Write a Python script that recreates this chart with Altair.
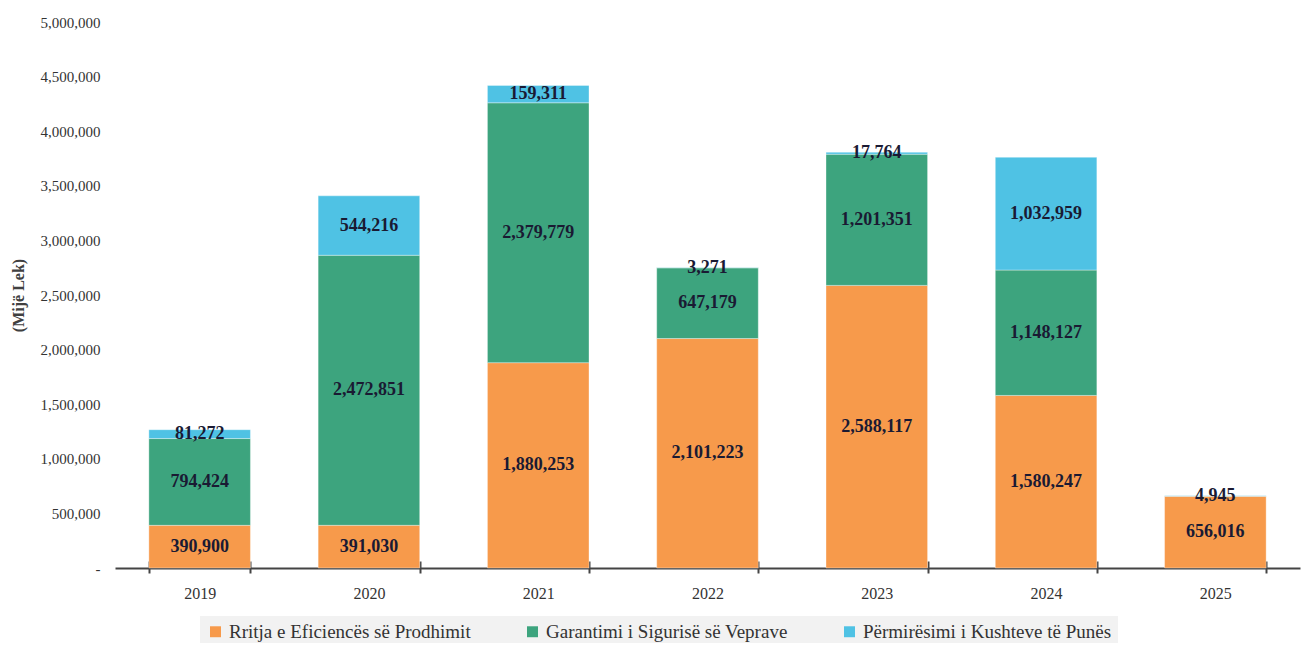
import altair as alt
import pandas as pd

years = ["2019", "2020", "2021", "2022", "2023", "2024", "2025"]
series = ["Rritja e Eficiencës së Prodhimit", "Garantimi i Sigurisë së Veprave", "Përmirësimi i Kushteve të Punës"]
rritja = [390900, 391030, 1880253, 2101223, 2588117, 1580247, 656016]
garantimi = [794424, 2472851, 2379779, 647179, 1201351, 1148127, None]
permiresimi = [81272, 544216, 159311, 3271, 17764, 1032959, 4945]
colors = ["#F79A4B", "#3DA47E", "#4FC2E4"]
y_ticks = [0, 500000, 1000000, 1500000, 2000000, 2500000, 3000000, 3500000, 4000000, 4500000, 5000000]

rows = []
for i, y in enumerate(years):
    for k, vals in enumerate([rritja, garantimi, permiresimi]):
        if vals[i] is not None:
            rows.append({"year": y, "series": series[k], "order": k, "value": vals[i]})
df = pd.DataFrame(rows)

FONT = "Liberation Serif"

x_enc = alt.X("year:N", sort=years,
              scale=alt.Scale(paddingInner=0.4, paddingOuter=0.2),
              axis=alt.Axis(title=None, orient="bottom", domain=False, tickBand="extent", ticks=True,
                            tickSize=12, tickColor="#444444", tickWidth=2, offset=-7,
                            labelAngle=0, labelFont=FONT, labelFontSize=16,
                            labelColor="#333333", labelPadding=12))

bars = alt.Chart(df).mark_bar(stroke="#ffffff", strokeOpacity=0.35, strokeWidth=1).encode(
    x=x_enc,
    y=alt.Y("value:Q", stack="zero",
            scale=alt.Scale(domain=[0, 5000000], nice=False),
            axis=alt.Axis(title="(Mijë Lek)", values=y_ticks,
                          labelExpr="datum.value == 0 ? '-' : format(datum.value, ',')",
                          labelFont=FONT, labelFontSize=15, labelFontWeight="normal",
                          labelColor="#333333", labelPadding=15,
                          ticks=False, domain=False, grid=False,
                          titleFont=FONT, titleFontSize=16, titleFontWeight="bold",
                          titleColor="#404040", titlePadding=14)),
    color=alt.Color("series:N", sort=series,
                    scale=alt.Scale(domain=series, range=colors),
                    legend=alt.Legend(title=None, orient="none", direction="horizontal",
                                      legendX=85, legendY=594,
                                      symbolType="square", symbolSize=120,
                                      labelFont=FONT, labelFontSize=19, labelColor="#333333",
                                      labelLimit=0, columnPadding=52, fillColor="#F2F2F2",
                                      padding=6, symbolStrokeWidth=0)),
    order=alt.Order("order:Q"),
)

labels = alt.Chart(df).transform_stack(
    stack="value", groupby=["year"], as_=["y0", "y1"], sort=[alt.SortField("order")]
).transform_calculate(
    mid="(datum.y0 + datum.y1) / 2"
).mark_text(font=FONT, fontSize=18, fontWeight="bold", color="#1A1A33", baseline="middle").encode(
    x=alt.X("year:N", sort=years,
            axis=alt.Axis(title=None, orient="bottom", domain=True, domainColor="#444444",
                          domainWidth=2, ticks=False, labels=False)),
    y=alt.Y("mid:Q"),
    text=alt.Text("value:Q", format=","),
)

chart = alt.layer(bars, labels).resolve_axis(x="independent").properties(
    width=1185, height=546,
    autosize=alt.AutoSizeParams(type="none"),
    padding={"left": 107, "top": 14, "right": 8, "bottom": 75},
).configure(background="white", font=FONT).configure_view(
    strokeWidth=0, stroke="transparent"
).configure_legend(labelFont=FONT)

chart.save("out.html", embed_options={"renderer": "svg", "actions": False})
